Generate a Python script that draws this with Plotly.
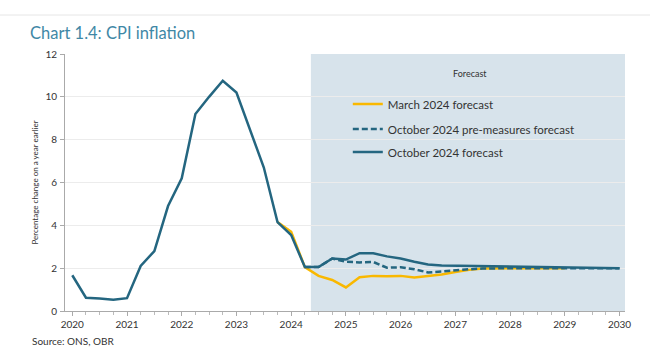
import plotly.graph_objects as go

# Quarterly time axis: index 0 = 2020 Q1
start_year = 2020

oct24_forecast = [1.67, 0.62, 0.58, 0.52, 0.60, 2.10, 2.80, 4.90, 6.20, 9.20, 10.00, 10.75,
                  10.20, 8.45, 6.70, 4.15, 3.55, 2.05, 2.05, 2.45, 2.40, 2.70, 2.70, 2.55,
                  2.45, 2.30, 2.17, 2.13, 2.12, 2.11, 2.10, 2.10, 2.10, 2.08, 2.06, 2.05,
                  2.03, 2.02, 2.01, 2.00, 2.00]
oct24_start = 0

oct24_pre = [2.05, 2.05, 2.45, 2.30, 2.27, 2.29, 2.02, 2.04, 1.95, 1.80, 1.84, 1.90,
             1.95, 1.98, 2.00, 2.00, 2.00, 2.00, 2.00, 2.00, 2.00, 2.00, 2.00, 2.00]
oct24_pre_start = 17

mar24_forecast = [4.15, 3.70, 2.05, 1.64, 1.45, 1.10, 1.58, 1.64, 1.62, 1.64, 1.57, 1.64,
                  1.70, 1.82, 1.92, 1.98, 2.00, 2.00, 2.00, 2.00, 2.00, 2.00]
mar24_start = 15

forecast_start = 2024.36
forecast_end = 2030.1

year_ticks = list(range(2020, 2031))


def quarters(start_idx, n):
    return [start_year + (start_idx + i) / 4 for i in range(n)]


BLUE = "#246680"
YELLOW = "#f9b800"
FONT = "Lato, 'Noto Sans', sans-serif"
LEG_FONT = dict(size=11.5, color="#333", family=FONT)

fig = go.Figure()
fig.add_trace(go.Scatter(x=quarters(mar24_start, len(mar24_forecast)), y=mar24_forecast,
                         mode="lines", name="March 2024 forecast", legend="legend",
                         line=dict(color=YELLOW, width=2.5)))
fig.add_trace(go.Scatter(x=quarters(oct24_pre_start, len(oct24_pre)), y=oct24_pre,
                         mode="lines", name="October 2024 pre-measures forecast", legend="legend2",
                         line=dict(color=BLUE, width=2.5, dash="6px,3px")))
fig.add_trace(go.Scatter(x=quarters(oct24_start, len(oct24_forecast)), y=oct24_forecast,
                         mode="lines", name="October 2024 forecast", legend="legend3",
                         line=dict(color=BLUE, width=2.5)))

fig.add_shape(type="rect", xref="x", yref="paper", x0=forecast_start, x1=forecast_end,
              y0=0, y1=1, fillcolor="#d7e3eb", line=dict(width=0), layer="below")
fig.add_shape(type="line", xref="paper", yref="paper", x0=-65 / 560, x1=1.05,
              y0=(311 - 15) / 257, y1=(311 - 15) / 257,
              line=dict(color="#e6e6e6", width=1))

fig.add_annotation(x=(470 - 65) / 560, y=(311 - 74) / 257, xref="paper", yref="paper",
                   xanchor="center", yanchor="middle",
                   text="Forecast", showarrow=False, font=dict(size=9, color="#333", family=FONT))
fig.add_annotation(x=-35 / 560, y=(311 - 341) / 257, xref="paper", yref="paper", xanchor="left",
                   yanchor="middle", text="Source: ONS, OBR", showarrow=False,
                   font=dict(size=10, color="#333", family=FONT))


def leg(ycenter):
    return dict(x=0.505, y=(311 - ycenter) / 257, xanchor="left", yanchor="middle",
                bgcolor="rgba(0,0,0,0)", font=LEG_FONT)


fig.update_layout(
    width=650, height=364,
    margin=dict(l=65, r=25, t=54, b=53),
    paper_bgcolor="white", plot_bgcolor="white",
    font=dict(family=FONT, color="#333"),
    title=dict(text="Chart 1.4: CPI inflation", x=30 / 650, xanchor="left", y=1 - 33 / 364,
               yanchor="middle", font=dict(size=16.5, color="#3f88a6", family=FONT)),
    showlegend=True,
    legend=leg(104),
    legend2=leg(129),
    legend3=leg(152),
    xaxis=dict(range=[2019.867, 2030.1], tickmode="array", tickvals=year_ticks,
               ticktext=[str(y) for y in year_ticks], showgrid=False,
               showline=True, linecolor="#aaa", linewidth=1,
               ticks="outside", ticklen=4, tickcolor="#aaa",
               minor=dict(dtick=0.25, tick0=2020, ticks="outside", ticklen=3, tickcolor="#bbb"),
               tickfont=dict(size=10, color="#333"), zeroline=False),
    yaxis=dict(range=[0, 12], dtick=2, showgrid=True, gridcolor="#ececec",
               showline=True, linecolor="#aaa", linewidth=1,
               ticks="outside", ticklen=4, tickcolor="#aaa", ticklabelstandoff=1,
               tickfont=dict(size=10, color="#333"), zeroline=False,
               title=dict(text="Percentage change on a year earlier", standoff=5,
                          font=dict(size=8, color="#333"))),
)

fig.write_html("out.html", config={"displayModeBar": False},
               post_script="document.body.style.margin='0px';")
